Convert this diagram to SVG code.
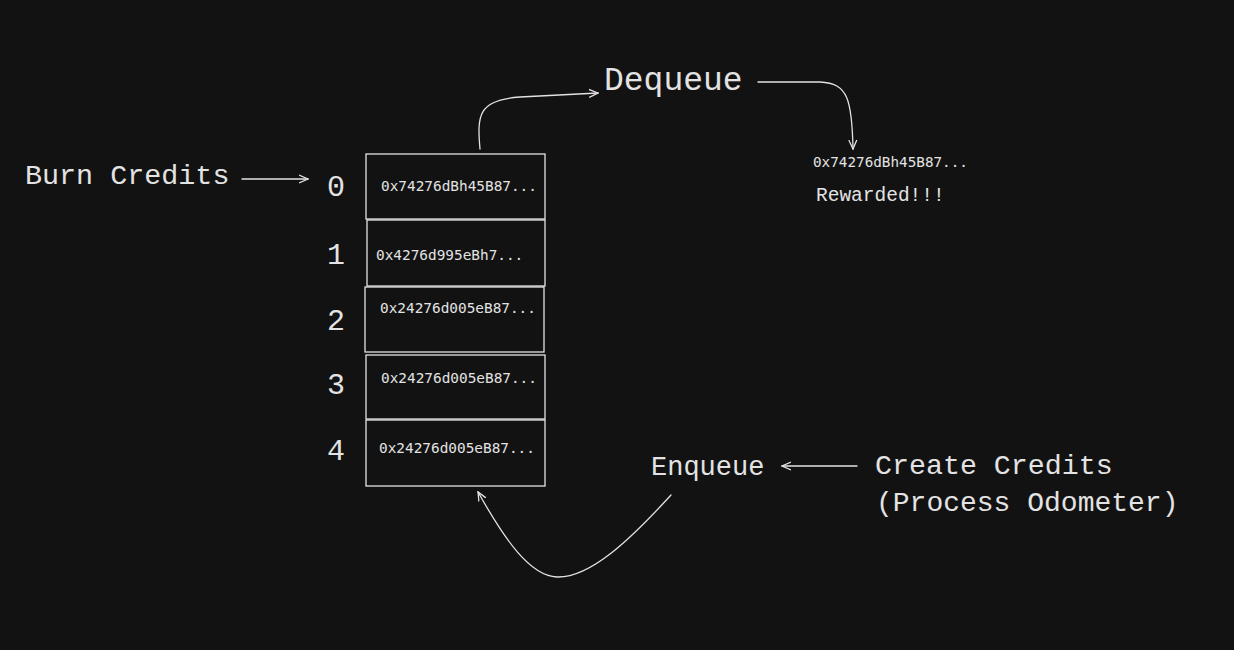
<svg xmlns="http://www.w3.org/2000/svg" width="1234" height="650" viewBox="0 0 1234 650">
<defs>
<style>
.hand{font-family:"Liberation Mono","DejaVu Sans Mono",monospace;fill:#e3e3e3}
.mono{font-family:"DejaVu Sans Mono","Liberation Mono",monospace;fill:#e3e3e3}
.box{fill:#121212;stroke:#e3e3e3;stroke-width:1.3}
.conn{fill:none;stroke:#e3e3e3;stroke-width:1.3;stroke-linecap:round}
</style>
<marker id="ah" viewBox="0 0 10 10" refX="9" refY="5" markerWidth="10" markerHeight="10" markerUnits="userSpaceOnUse" orient="auto">
<path d="M0,1 L9,5 L0,9" fill="none" stroke="#e3e3e3" stroke-width="1.3"/>
</marker>
</defs>
<rect width="1234" height="650" fill="#121212"/>
<g id="burn-credits"><text class="hand" x="25" y="184" font-size="28.4">Burn Credits</text></g>
<g id="indices" class="hand" font-size="30" text-anchor="middle">
<text x="336" y="196">0</text>
<text x="336" y="264">1</text>
<text x="336" y="330">2</text>
<text x="336" y="394">3</text>
<text x="336" y="460">4</text>
</g>
<g id="slot0"><rect class="box" x="366" y="154" width="179" height="65"/><text class="mono" x="381" y="191" font-size="14.4">0x74276dBh45B87...</text></g>
<g id="slot1"><rect class="box" x="367" y="220" width="178" height="66"/><text class="mono" x="376" y="260" font-size="14.4">0x4276d995eBh7...</text></g>
<g id="slot2"><rect class="box" x="365" y="287" width="179" height="65"/><text class="mono" x="380" y="313" font-size="14.4">0x24276d005eB87...</text></g>
<g id="slot3"><rect class="box" x="366" y="355" width="179" height="64"/><text class="mono" x="381" y="383" font-size="14.4">0x24276d005eB87...</text></g>
<g id="slot4"><rect class="box" x="366" y="420" width="179" height="66"/><text class="mono" x="379" y="453" font-size="14.4">0x24276d005eB87...</text></g>
<g id="dequeue"><text class="hand" x="604" y="90" font-size="33">Dequeue</text></g>
<g id="rewarded"><text class="mono" x="813" y="167" font-size="14.3">0x74276dBh45B87...</text><text class="hand" x="816" y="201" font-size="19.5">Rewarded!!!</text></g>
<g id="enqueue"><text class="hand" x="651" y="475" font-size="27">Enqueue</text></g>
<g id="create-credits"><text class="hand" x="875" y="474" font-size="28.3">Create Credits</text><text class="hand" x="876" y="511" font-size="28">(Process Odometer)</text></g>
<g id="connectors">
<path class="conn" marker-end="url(#ah)" d="M242,179 L308,179"/>
<path class="conn" marker-end="url(#ah)" d="M480,149 C477,115 478,100 520,97 L598,93"/>
<path class="conn" marker-end="url(#ah)" d="M758,82 L820,82 C848,83 852,100 853,149"/>
<path class="conn" marker-end="url(#ah)" d="M857,466 L782,466"/>
<path class="conn" marker-end="url(#ah)" d="M671,495 C630,540 590,578 557,577 C530,576 505,540 478,492"/>
</g>
</svg>
